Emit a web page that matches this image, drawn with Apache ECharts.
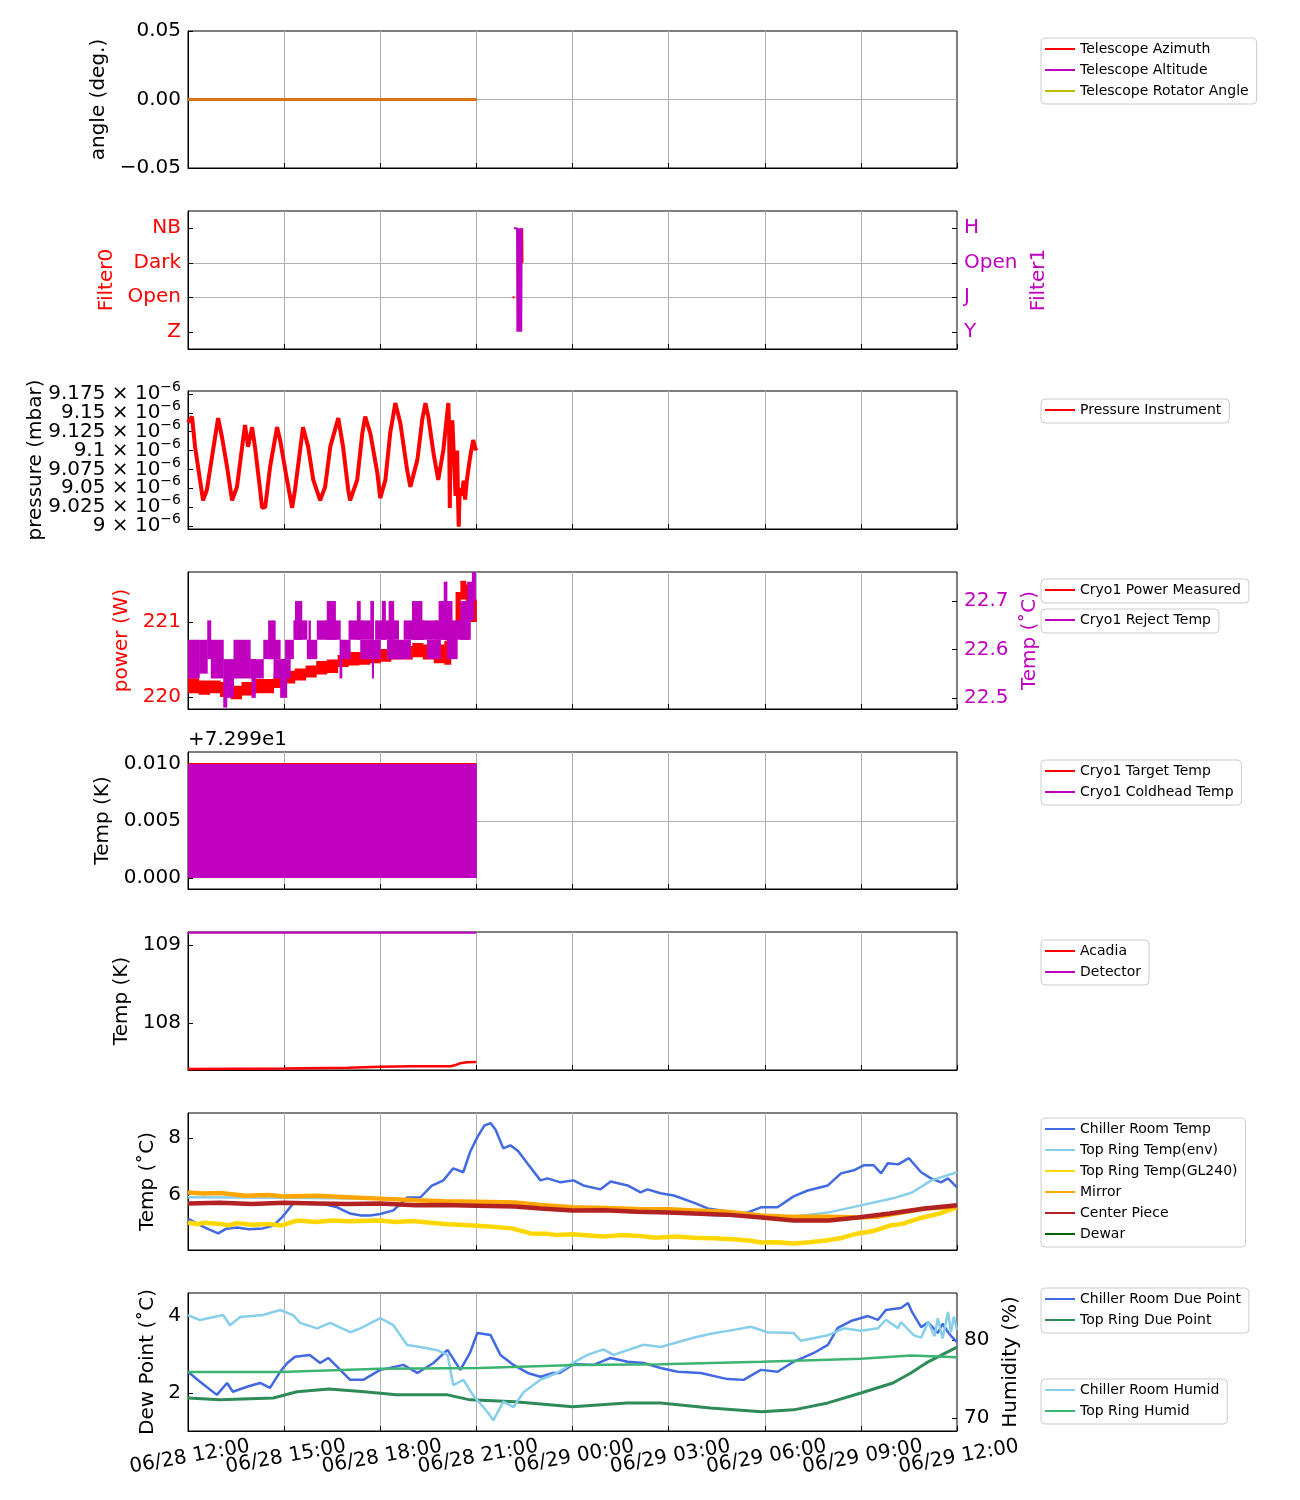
<!DOCTYPE html>
<html><head><meta charset="utf-8">
<script src="https://cdn.jsdelivr.net/npm/echarts@6.0.0/dist/echarts.min.js"></script>
<style>html,body{margin:0;padding:0;background:#fff}#c{width:1300px;height:1500px}</style>
</head><body><div id="c"></div>
<script>
// ===== DATA (time = hours after 06/28 12:00) =====
const xTickHours = [0, 3, 6, 9, 12, 15, 18, 21, 24];

// Panel 1: telescope angles
const angleTimes = [0, 9];
const telescopeAzimuth = [0, 0];
const telescopeAltitude = [0, 0];
const telescopeRotator = [0, 0];

// Panel 2: filters
const filter0Names = ['Z', 'Open', 'Dark', 'NB'];
const filter1Names = ['Y', 'J', 'Open', 'H'];
const filter0Times = [10.13, 10.19, 10.3, 10.43, 10.44];
const filter0Values = ['Open', 'Open', null, 'NB', 'Dark'];
const filter1Times = [10.17, 10.27, 10.28, 10.295, 10.31, 10.325, 10.34, 10.355, 10.37, 10.385, 10.40, 10.415];
const filter1Values = ['H', 'H', 'Y', 'H', 'Y', 'H', 'Y', 'H', 'Y', 'H', 'Y', 'H'];

// Panel 3: pressure (units of 1e-6 mbar)
const pressureTimes = [0,0.125,0.22,0.375,0.47,0.59,0.75,0.94,1.06,1.22,1.375,1.53,1.69,1.78,1.875,2.0,2.09,2.25,2.31,2.41,2.56,2.78,2.875,3.09,3.25,3.34,3.59,3.75,3.91,4.125,4.28,4.44,4.69,4.84,5.0,5.06,5.28,5.44,5.53,5.69,5.91,6.0,6.16,6.31,6.47,6.625,6.84,6.94,7.16,7.31,7.41,7.5,7.66,7.81,7.97,8.125,8.15,8.17,8.19,8.25,8.3,8.35,8.4,8.43,8.45,8.48,8.55,8.6,8.65,8.7,8.8,8.9,8.95,9.0];
const pressureE6 = [9.137,9.145,9.105,9.061,9.034,9.048,9.092,9.143,9.118,9.078,9.034,9.052,9.105,9.134,9.105,9.131,9.105,9.048,9.024,9.025,9.078,9.131,9.114,9.061,9.024,9.048,9.131,9.105,9.061,9.034,9.052,9.105,9.143,9.105,9.048,9.034,9.061,9.123,9.145,9.123,9.07,9.037,9.061,9.123,9.163,9.137,9.074,9.052,9.088,9.141,9.163,9.145,9.097,9.061,9.101,9.163,9.13,9.024,9.12,9.14,9.09,9.04,9.10,9.03,8.999,9.05,9.04,9.06,9.035,9.06,9.09,9.114,9.105,9.10];
const pressureTicks = [9.0, 9.025, 9.05, 9.075, 9.1, 9.125, 9.15, 9.175];

// Panel 4: cryo power (W) and reject temp (°C): [tStart, tEnd, low, high] envelopes
const cryoPowerEnvelope = [
  [0,0.33,220.05,220.25],[0.33,0.67,220.03,220.22],[0.67,1.0,220.05,220.22],[1.0,1.33,220.0,220.2],
  [1.33,1.67,219.97,220.15],[1.67,2.0,220.02,220.2],[2.0,2.33,220.05,220.24],[2.33,2.67,220.05,220.24],
  [2.67,3.0,220.12,220.3],[3.0,3.33,220.18,220.35],[3.33,3.67,220.22,220.38],[3.67,4.0,220.26,220.42],
  [4.0,4.33,220.3,220.48],[4.33,4.67,220.32,220.5],[4.67,5.0,220.4,220.56],[5.0,5.33,220.42,220.6],
  [5.33,5.67,220.43,220.6],[5.67,6.0,220.45,220.62],[6.0,6.33,220.47,220.64],[6.33,6.67,220.5,220.66],
  [6.67,7.0,220.5,220.68],[7.0,7.33,220.53,220.72],[7.33,7.67,220.5,220.7],[7.67,8.0,220.45,220.7],
  [8.0,8.2,220.43,220.75],[8.2,8.35,220.55,220.95],[8.35,8.5,220.9,221.4],[8.5,8.67,221.3,221.55],
  [8.67,8.83,221.15,221.5],[8.83,9.0,221.0,221.3]
];
const rejectTempEnvelope = [
  [0,0.27,22.54,22.62],[0.27,0.35,22.54,22.62],[0.35,0.6,22.55,22.62],[0.6,0.71,22.58,22.66],
  [0.71,1.1,22.54,22.62],[1.1,1.21,22.48,22.58],[1.21,1.42,22.50,22.58],[1.42,1.94,22.54,22.62],
  [1.94,2.35,22.54,22.58],[1.98,2.1,22.50,22.58],[2.35,2.875,22.58,22.62],[2.5,2.72,22.58,22.66],
  [2.67,3.19,22.54,22.58],[2.875,3.08,22.50,22.58],[3.03,3.29,22.58,22.62],[3.29,3.71,22.62,22.66],
  [3.34,3.55,22.62,22.70],[3.71,4.02,22.58,22.62],[3.76,3.82,22.58,22.66],[4.02,4.75,22.62,22.66],
  [4.33,4.6,22.62,22.70],[4.73,4.8,22.54,22.62],[4.75,5.06,22.58,22.62],[5.01,5.69,22.62,22.66],
  [5.27,5.375,22.62,22.70],[5.69,5.79,22.62,22.70],[5.375,6.0,22.58,22.62],[5.74,5.79,22.54,22.62],
  [5.84,6.57,22.62,22.66],[6.05,6.16,22.62,22.70],[6.26,6.42,22.62,22.70],[6.21,6.94,22.58,22.62],
  [6.73,7.35,22.62,22.66],[6.99,7.3,22.62,22.70],[7.04,7.77,22.62,22.66],[7.46,7.875,22.58,22.62],
  [7.72,8.19,22.62,22.66],[7.82,8.24,22.62,22.70],[7.98,8.08,22.62,22.74],[8.08,8.4,22.58,22.66],
  [8.4,8.76,22.62,22.66],[8.5,8.81,22.62,22.70],[8.71,8.92,22.66,22.74],[8.86,8.97,22.70,22.76]
];

// Panel 5: coldhead temp (K) envelope and target temp
const coldheadEnvelope = [[0, 9, 72.99, 73.00]];
const targetTemp = [[0, 73.0], [9, 73.0]];
const coldheadTicks = [72.99, 72.995, 73.0];

// Panel 6: Acadia / Detector (K)
const acadiaTemp = [[0,107.41],[3,107.415],[5,107.425],[6,107.44],[7,107.445],[8.2,107.445],[8.35,107.46],[8.5,107.485],[8.7,107.495],[9,107.5]];
const detectorTemp = [[0,109.158],[8.4,109.158],[8.45,109.14],[8.5,109.158],[9,109.158]];

// Panel 7: temperatures (°C)
const chillerRoomTemp = [[0,5.14],[0.3,4.95],[0.6,4.78],[0.94,4.61],[1.2,4.78],[1.53,4.82],[1.9,4.76],[2.34,4.79],[2.66,4.89],[2.95,5.2],[3.28,5.68],[3.7,5.7],[4.125,5.68],[4.66,5.54],[5.06,5.32],[5.4,5.25],[5.69,5.25],[6.0,5.3],[6.41,5.43],[6.84,5.89],[7.25,5.89],[7.6,6.3],[7.97,6.5],[8.28,6.93],[8.59,6.79],[8.8,7.5],[9.03,8.04],[9.25,8.45],[9.44,8.54],[9.6,8.3],[9.84,7.64],[10.06,7.75],[10.3,7.55],[10.59,7.11],[11.0,6.5],[11.22,6.57],[11.625,6.43],[12.03,6.5],[12.34,6.32],[12.875,6.18],[13.19,6.46],[13.72,6.32],[14.125,6.07],[14.34,6.18],[14.75,6.04],[15.16,5.96],[15.78,5.71],[16.22,5.5],[16.63,5.43],[17.25,5.32],[17.47,5.36],[17.88,5.54],[18.4,5.54],[18.9,5.93],[19.34,6.14],[19.97,6.32],[20.38,6.75],[20.78,6.86],[21.1,7.04],[21.4,7.04],[21.63,6.75],[21.84,7.11],[22.16,7.07],[22.5,7.29],[22.88,6.79],[23.19,6.57],[23.5,6.43],[23.72,6.57],[24,6.25]];
const topRingTempEnv = [[0,5.9],[3,5.88],[6,5.85],[9,5.7],[12,5.5],[15,5.35],[16.5,5.25],[18,5.2],[19,5.22],[20,5.36],[21,5.61],[22,5.86],[22.6,6.07],[23.2,6.5],[24,6.79]];
const topRingTempGL240 = [[0,5.0],[0.3,4.94],[0.5,4.99],[1,4.95],[1.3,4.9],[1.5,4.98],[2,4.92],[2.5,4.95],[2.9,4.89],[3.4,5.07],[4.0,5.02],[4.5,5.07],[5,5.04],[6,5.07],[6.5,5.02],[7,5.05],[8,4.95],[8.9,4.89],[9.5,4.85],[10.1,4.79],[10.7,4.61],[11.2,4.6],[11.5,4.55],[12,4.58],[12.5,4.54],[13,4.5],[13.5,4.55],[14.1,4.52],[14.6,4.46],[15.2,4.5],[15.8,4.46],[16.4,4.44],[17,4.4],[17.5,4.36],[17.9,4.29],[18.4,4.3],[18.9,4.25],[19.4,4.3],[19.9,4.36],[20.4,4.45],[20.9,4.61],[21.4,4.7],[21.9,4.89],[22.3,4.95],[22.8,5.14],[23.4,5.3],[24,5.54]];
const mirrorTemp = [[0,6.07],[0.5,6.03],[1,6.05],[1.8,5.95],[2.5,5.98],[3,5.93],[4,5.95],[5,5.9],[6,5.85],[7.1,5.79],[8,5.76],[9,5.74],[10.2,5.71],[11,5.62],[12,5.54],[13,5.52],[14,5.48],[15,5.47],[15.8,5.43],[16.8,5.38],[17.9,5.25],[18.9,5.2],[20,5.2],[20.9,5.18],[21.5,5.2],[22,5.3],[23,5.5],[24,5.57]];
const centerPieceTemp = [[0,5.68],[1,5.7],[2,5.66],[3,5.7],[4,5.68],[5,5.66],[6,5.68],[7.1,5.61],[8,5.62],[9,5.6],[10.2,5.57],[11,5.5],[12,5.43],[13,5.44],[14,5.38],[15,5.36],[15.8,5.32],[16.8,5.28],[17.9,5.18],[18.9,5.07],[20,5.07],[20.9,5.18],[21.9,5.32],[23,5.5],[24,5.61]];
const dewarTemp = [];

// Panel 8: dew points (°C) and humidity (%)
const chillerRoomDewPoint = [[0,2.55],[0.375,2.29],[0.9,1.95],[1.22,2.26],[1.4,2.03],[1.84,2.16],[2.25,2.26],[2.56,2.13],[2.875,2.55],[3.1,2.78],[3.34,2.94],[3.8,2.99],[4.125,2.78],[4.375,2.91],[4.66,2.68],[5.06,2.34],[5.47,2.34],[6.0,2.6],[6.3,2.65],[6.72,2.73],[7.16,2.52],[7.66,2.78],[8.1,3.12],[8.5,2.6],[8.8,3.04],[9.03,3.56],[9.44,3.51],[9.75,2.99],[10.16,2.73],[10.6,2.52],[11.0,2.42],[11.4,2.52],[11.6,2.52],[12.03,2.75],[12.66,2.73],[13.19,2.91],[13.72,2.81],[14.22,2.78],[14.75,2.65],[15.28,2.55],[16.0,2.52],[16.84,2.36],[17.34,2.34],[17.88,2.6],[18.4,2.55],[18.9,2.81],[19.53,3.04],[19.97,3.25],[20.28,3.69],[20.69,3.87],[21.22,4.0],[21.53,3.9],[21.78,4.16],[22.25,4.21],[22.47,4.34],[22.6,4.1],[22.88,3.71],[23.1,3.84],[23.4,3.56],[23.55,3.8],[23.72,3.58],[23.85,3.45],[24,3.32]];
const topRingDewPoint = [[0,1.87],[1,1.82],[2.66,1.87],[3.4,2.03],[4.4,2.1],[5.5,2.03],[6.5,1.95],[8.1,1.95],[8.8,1.82],[10.2,1.77],[12,1.64],[13.7,1.74],[14.75,1.74],[16.3,1.61],[17.9,1.51],[18.9,1.56],[19.97,1.74],[21,2.0],[22.0,2.26],[22.56,2.52],[23.1,2.81],[24,3.19]];
const chillerRoomHumid = [[0,83.2],[0.375,82.56],[1.1,83.2],[1.31,81.9],[1.625,82.95],[2.34,83.2],[2.875,83.85],[3.28,83.2],[3.5,82.2],[4.03,81.5],[4.44,82.2],[5.06,81.0],[5.375,81.5],[6.0,82.8],[6.41,81.9],[6.84,79.36],[7.25,79.1],[7.78,78.7],[8.1,78.1],[8.28,74.2],[8.59,74.9],[8.9,72.9],[9.34,70.8],[9.53,69.7],[9.84,72.1],[10.16,71.4],[10.47,73.3],[11.0,74.9],[11.53,75.8],[12.03,77.1],[12.47,78.1],[12.97,78.8],[13.28,78.1],[14.22,79.4],[14.75,79.1],[15.78,80.3],[16.31,80.8],[17.03,81.3],[17.56,81.7],[18.09,81.0],[18.9,80.9],[19.125,79.9],[19.97,80.6],[20.47,81.5],[21.0,81.2],[21.53,81.5],[21.78,82.6],[22.16,81.5],[22.25,82.3],[22.66,80.6],[22.88,80.3],[23.1,82.3],[23.3,80.5],[23.4,82.8],[23.55,80.2],[23.72,83.6],[23.81,81.0],[23.9,83.0],[24,81.3]];
const topRingHumid = [[0,75.9],[2.875,75.9],[6,76.3],[9.1,76.4],[12.1,76.8],[14.75,76.9],[17.9,77.2],[21,77.6],[22.56,78.0],[24,77.8]];

// ===== CHART =====
const FONT = "'DejaVu Sans', sans-serif";
const RED = '#ff0000', MAG = '#bf00bf', YEL = '#bfbf00';
const gridTops = [31, 211, 391, 572, 752, 932, 1113, 1293];
const gridHeights = [137, 138, 138, 137, 137, 138, 137, 138];

function zip(ts, vs) { return ts.map((t, i) => [t, vs[i]]); }
function xLabel(h) {
  const total = 12 + h;
  const day = 28 + Math.floor(total / 24);
  const hr = total % 24;
  return '06/' + day + ' ' + String(hr).padStart(2, '0') + ':00';
}
function bandRender(params, api) {
  const a = api.coord([api.value(0), api.value(3)]);
  const b = api.coord([api.value(1), api.value(2)]);
  return { type: 'rect', shape: { x: a[0], y: a[1], width: Math.max(b[0] - a[0], 1) + 0.5, height: Math.max(b[1] - a[1], 1) },
           style: { fill: api.visual('color') } };
}
const everyOther = (arr, start) => arr.filter((v, i) => i % 2 === start);

const grids = gridTops.map((t, i) => ({ left: 188, width: 769, top: t, height: gridHeights[i],
  show: true, borderColor: '#000', borderWidth: 1, backgroundColor: 'transparent', containLabel: false }));

const xLabelStyle = { show: true, rotate: 10, align: 'center', verticalAlign: 'top', margin: 16,
  fontSize: 20, color: '#000', fontFamily: FONT, formatter: xLabel };

const xAxes = gridTops.map((t, i) => ({
  type: 'value', gridIndex: i, min: 0, max: 24, interval: 3,
  axisLine: { show: true, onZero: false, lineStyle: { color: '#000', width: 1 } },
  axisTick: { show: true, inside: true, length: 5, lineStyle: { color: '#000' } },
  splitLine: { show: true, showMinLine: false, showMaxLine: false, lineStyle: { color: '#b0b0b0', width: 1 } },
  axisLabel: i === 7 ? Object.assign({ customValues: everyOther(xTickHours, 0) }, xLabelStyle) : { show: false }
}));
// second label-only axis on the bottom panel carries the alternate tick labels
xAxes.push({
  type: 'value', gridIndex: 7, position: 'bottom', min: 0, max: 24,
  axisLine: { show: false, onZero: false }, axisTick: { show: false }, splitLine: { show: false },
  axisLabel: Object.assign({ customValues: everyOther(xTickHours, 1) }, xLabelStyle)
});

function yAx(grid, o) {
  const color = o.color || '#000';
  return {
    type: 'value', gridIndex: grid, position: o.pos || 'left', min: o.min, max: o.max,
    name: o.name, nameLocation: 'middle', nameRotate: 90, nameGap: o.gap,
    nameTextStyle: { fontSize: 20, color: color, fontFamily: FONT },
    axisLine: { show: o.pos !== 'right' && !o.labelOnly, onZero: false, lineStyle: { color: '#000' } },
    axisTick: { show: !o.labelOnly, inside: true, length: 5, customValues: o.ticks, lineStyle: { color: '#000' } },
    splitLine: { show: !!o.split, showMinLine: false, showMaxLine: false, lineStyle: { color: '#b0b0b0', width: 1 } },
    axisLabel: Object.assign({ show: true, customValues: o.labels || o.ticks, fontSize: 20, color: color, fontFamily: FONT, margin: 7,
      formatter: o.fmt }, o.label || {})
  };
}

const pressureFmt = v => '{m|' + parseFloat(v.toFixed(3)) + ' \u00d7 10}{s|\u22126}';
const pressureRich = { rich: { m: { fontSize: 20, fontFamily: FONT, color: '#000' },
                               s: { fontSize: 14, fontFamily: FONT, color: '#000', padding: [0, 0, 13, 0] } } };

const yAxes = [
  yAx(0, { min: -0.05, max: 0.05, ticks: [-0.05, 0, 0.05], name: 'angle (deg.)', gap: 74, split: true,
           fmt: v => v.toFixed(2).replace('-', '\u2212') }),
  yAx(1, { min: -0.5, max: 3.5, ticks: [0, 1, 2, 3], name: 'Filter0', gap: 59, split: true, color: RED,
           fmt: v => filter0Names[Math.round(v)] }),
  yAx(1, { pos: 'right', min: -0.5, max: 3.5, ticks: [0, 1, 2, 3], name: 'Filter1', gap: 60, color: MAG,
           fmt: v => filter1Names[Math.round(v)] }),
  yAx(2, { min: 8.996, max: 9.179, ticks: pressureTicks, labels: everyOther(pressureTicks, 0), name: 'pressure (mbar)', gap: 142,
           fmt: pressureFmt, label: pressureRich }),
  yAx(3, { min: 219.84, max: 221.667, ticks: [220, 221], name: 'power (W)', gap: 49, split: true, color: RED,
           fmt: v => v.toFixed(0) }),
  yAx(3, { pos: 'right', min: 22.477, max: 22.76, ticks: [22.5, 22.6, 22.7], name: 'Temp (\u02daC)', gap: 51, color: MAG,
           fmt: v => v.toFixed(1) }),
  yAx(4, { min: 72.98904, max: 73.00105, ticks: coldheadTicks, name: 'Temp (K)', gap: 67, split: true,
           fmt: v => (v - 72.99).toFixed(3) }),
  yAx(5, { min: 107.397, max: 109.167, ticks: [108, 109], name: 'Temp (K)', gap: 49, split: true,
           fmt: v => v.toFixed(0) }),
  yAx(6, { min: 4.02, max: 8.9, ticks: [6, 8], name: 'Temp (\u02daC)', gap: 24, split: true,
           fmt: v => v.toFixed(0) }),
  yAx(7, { min: 1.01, max: 4.6, ticks: [2, 4], name: 'Dew Point (\u02daC)', gap: 22, split: true,
           fmt: v => v.toFixed(0) }),
  yAx(7, { pos: 'right', min: 68.33, max: 86.03, ticks: [70, 80], name: 'Humidity (%)', gap: 27,
           fmt: v => v.toFixed(0) }),
  // label-only companion axis for the alternate pressure tick labels
  yAx(2, { min: 8.996, max: 9.179, ticks: pressureTicks, labels: everyOther(pressureTicks, 1), labelOnly: true,
           fmt: pressureFmt, label: pressureRich })
];

function line(name, xi, yi, data, color, width, extra) {
  return Object.assign({ name, type: 'line', xAxisIndex: xi, yAxisIndex: yi, data, symbol: 'none', z: 2,
    itemStyle: { color }, lineStyle: { color, width }, animation: false, silent: true }, extra || {});
}
function band(name, xi, yi, data, color) {
  return { name, type: 'custom', xAxisIndex: xi, yAxisIndex: yi, data, renderItem: bandRender, z: 3,
    encode: { x: [0, 1], y: [2, 3] }, itemStyle: { color }, animation: false, silent: true };
}

const series = [
  line('Telescope Altitude', 0, 0, zip(angleTimes, telescopeAltitude), MAG, 2.5),
  line('Telescope Azimuth', 0, 0, zip(angleTimes, telescopeAzimuth), RED, 2.5),
  line('Telescope Rotator Angle', 0, 0, zip(angleTimes, telescopeRotator), YEL, 2.5, { lineStyle: { color: YEL, width: 2.5, opacity: 0.7 } }),

  line('Filter0', 1, 1, filter0Times.map((t, i) => [t, filter0Values[i] == null ? null : filter0Names.indexOf(filter0Values[i])]), RED, 2, { connectNulls: false }),
  line('Filter1', 1, 2, filter1Times.map((t, i) => [t, filter1Names.indexOf(filter1Values[i])]), MAG, 2),

  line('Pressure Instrument', 2, 3, zip(pressureTimes, pressureE6), RED, 4),

  band('Cryo1 Power Measured', 3, 4, cryoPowerEnvelope, RED),
  band('Cryo1 Reject Temp', 3, 5, rejectTempEnvelope, MAG),

  line('Cryo1 Target Temp', 4, 6, targetTemp, RED, 2),
  band('Cryo1 Coldhead Temp', 4, 6, coldheadEnvelope, MAG),

  line('Acadia', 5, 7, acadiaTemp, RED, 2.5),
  line('Detector', 5, 7, detectorTemp, MAG, 2),

  line('Chiller Room Temp', 6, 8, chillerRoomTemp, '#4169e1', 2.5),
  line('Top Ring Temp(env)', 6, 8, topRingTempEnv, '#87ceeb', 2.5),
  line('Top Ring Temp(GL240)', 6, 8, topRingTempGL240, '#ffd700', 4.5),
  line('Mirror', 6, 8, mirrorTemp, '#ffa500', 4.5),
  line('Center Piece', 6, 8, centerPieceTemp, '#b22222', 4.5),
  line('Dewar', 6, 8, dewarTemp, '#006400', 2.5),

  line('Chiller Room Due Point', 7, 9, chillerRoomDewPoint, '#4169e1', 2.5),
  line('Top Ring Due Point', 7, 9, topRingDewPoint, '#2e8b57', 3),
  line('Chiller Room Humid', 7, 10, chillerRoomHumid, '#87ceeb', 2.5),
  line('Top Ring Humid', 7, 10, topRingHumid, '#3cb371', 2.5)
];

function legendBox(top, names) {
  return { show: true, orient: 'vertical', left: 1041, top, data: names, icon: 'rect',
    itemWidth: 30, itemHeight: 2, itemGap: 5, padding: [3, 8, 5, 4],
    borderColor: '#cccccc', borderWidth: 1, borderRadius: 4, backgroundColor: '#ffffff',
    textStyle: { fontSize: 14, color: '#000', fontFamily: FONT, lineHeight: 16 }, selectedMode: false };
}
const legends = [
  legendBox(38, ['Telescope Azimuth', 'Telescope Altitude', 'Telescope Rotator Angle']),
  legendBox(399, ['Pressure Instrument']),
  legendBox(579, ['Cryo1 Power Measured']),
  legendBox(609, ['Cryo1 Reject Temp']),
  legendBox(760, ['Cryo1 Target Temp', 'Cryo1 Coldhead Temp']),
  legendBox(940, ['Acadia', 'Detector']),
  legendBox(1118, ['Chiller Room Temp', 'Top Ring Temp(env)', 'Top Ring Temp(GL240)', 'Mirror', 'Center Piece', 'Dewar']),
  legendBox(1288, ['Chiller Room Due Point', 'Top Ring Due Point']),
  legendBox(1379, ['Chiller Room Humid', 'Top Ring Humid'])
];

const chart = echarts.init(document.getElementById('c'), null, { renderer: 'canvas', width: 1300, height: 1500 });
chart.setOption({
  backgroundColor: '#ffffff',
  animation: false,
  textStyle: { fontFamily: FONT },
  grid: grids,
  xAxis: xAxes,
  yAxis: yAxes,
  legend: legends,
  series: series,
  graphic: [{ type: 'text', left: 188, top: 730, style: { text: '+7.299e1', fontSize: 20, fill: '#000', fontFamily: FONT } }]
});
</script>
</body></html>
